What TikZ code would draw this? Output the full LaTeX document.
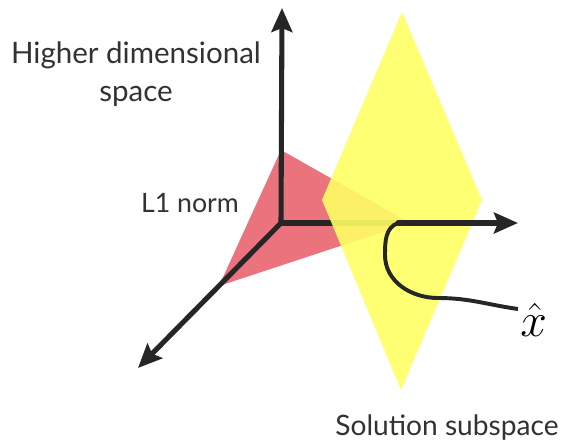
\RequirePackage{fix-cm}
\documentclass[tikz,border=0pt]{standalone}
\usepackage{fontspec}
\setmainfont{Lato}
\usetikzlibrary{arrows.meta}
\definecolor{rosaNorma}{RGB}{234,115,125}
\definecolor{amareloPlano}{RGB}{255,255,100}
\definecolor{cinzaTexto}{RGB}{50,50,50}
\tikzset{
  eixo/.style={-{Stealth[length=0.6cm,width=0.52cm,inset=0.1cm]}, line width=3.6pt,
               line cap=round, black!85},
  curva/.style={line width=2.8pt, black!85},
  rotulo/.style={font=\fontsize{21}{27}\selectfont, text=cinzaTexto, align=center,
                 inner sep=0pt},
}

\begin{document}
\begin{tikzpicture}[x=0.025cm, y=-0.025cm]
  \useasboundingbox (0,0) rectangle (566,447);
  \coordinate (o) at (281,223);
  \coordinate (topo) at (282,8);
  \coordinate (dir) at (518,223);
  \coordinate (frente) at (138,368);
  \coordinate (xhat) at (398,223);
  \coordinate (ponta) at (518,309);
  % norma L1
  \fill[rosaNorma] (281,150) -- (219,286) -- (410,223) -- cycle;
  \draw[eixo] (o) -- (topo);
  \draw[eixo] (o) -- (frente);
  \draw[line width=3.6pt, line cap=round, black!85] (o) -- (xhat);
  % subespaco das solucoes
  \fill[amareloPlano, opacity=0.9] (402,12) -- (482,200) -- (401,390) -- (322,200) -- cycle;
  \draw[eixo] (xhat) -- (dir);
  \node[rotulo] (espaco) at (136,74) {Higher dimensional\\space};
  \node[rotulo, font=\fontsize{19}{24}\selectfont] (norma) at (190,203) {L1 norm};
  \node[rotulo, font=\fontsize{20}{25}\selectfont] (solucao) at (447,428) {Solution subspace};
  \node[font=\fontsize{34}{40}\selectfont, inner sep=0pt, anchor=west] (xlabel) at (520,320) {$\hat{x}$};
  \draw[curva] (xhat) to[out=200,in=90] (385,255) to[out=-90,in=180] (438,298)
    to[out=0,in=172] (ponta);
\end{tikzpicture}
\end{document}
